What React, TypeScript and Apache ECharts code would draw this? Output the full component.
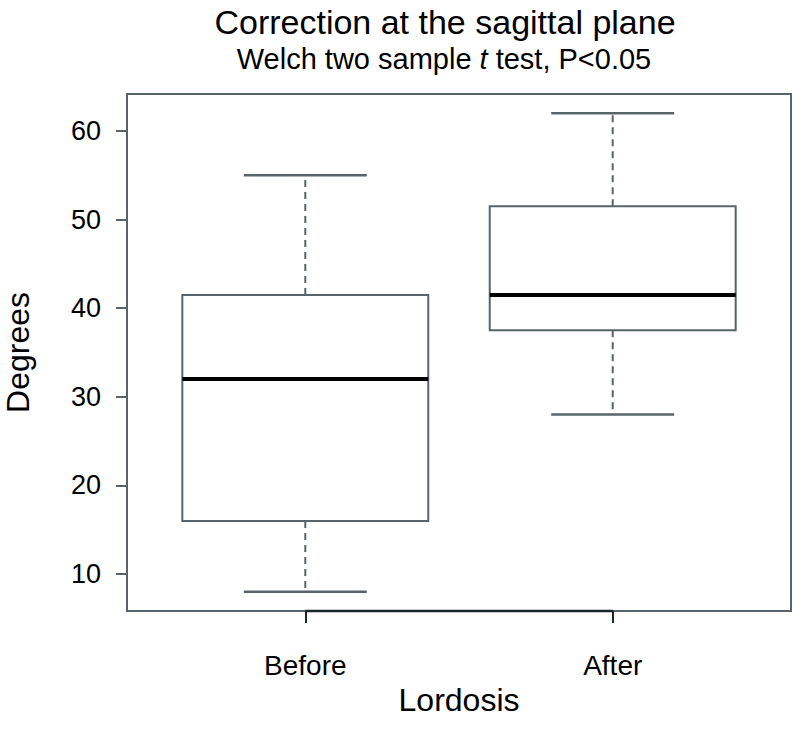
import React, { useEffect, useRef } from "react";
import * as echarts from "echarts";

const categories = ["Before", "After"];
// [min, Q1, median, Q3, max]
const beforeStats = [8, 16, 32, 41.5, 55];
const afterStats = [28, 37.5, 41.5, 51.5, 62];
const yTicks = [10, 20, 30, 40, 50, 60];

const FONT = "'Liberation Sans', Arial, Helvetica, sans-serif";
const GRAY = "#58646a";
const DARK = "#1c2628";

export default function App() {
  const ref = useRef<HTMLDivElement>(null);
  useEffect(() => {
    if (!ref.current) return;
    const chart = echarts.init(ref.current, null, { renderer: "svg" });
    const all = [...beforeStats, ...afterStats];
    const lo = Math.min(...all);
    const hi = Math.max(...all);
    const pad = (hi - lo) * 0.04;
    const YMIN = lo - pad;
    const YMAX = hi + pad;
    const XMIN = 1 - 0.5 - 0.08;
    const XMAX = categories.length + 0.5 + 0.08;
    const rows = [beforeStats, afterStats].map((s, i) => [i + 1, ...s]);

    chart.setOption({
      animation: false,
      backgroundColor: "#fff",
      title: [
        {
          text: "Correction at the sagittal plane",
          left: 440,
          top: 0,
          textAlign: "center",
          textStyle: { fontFamily: FONT, fontSize: 34, fontWeight: "normal", color: "#000" },
        },
        {
          text: "{a|Welch two sample }{i|t}{a| test, P<0.05}",
          left: 439,
          top: 39,
          textAlign: "center",
          textStyle: {
            fontFamily: FONT,
            fontSize: 29,
            fontWeight: "normal",
            color: "#000",
            rich: {
              a: { fontFamily: FONT, fontSize: 29, fontWeight: "normal", color: "#000" },
              i: { fontFamily: FONT, fontSize: 29, fontWeight: "normal", fontStyle: "italic", color: "#000" },
            },
          },
        },
      ],
      grid: {
        left: 127,
        right: 8,
        top: 94,
        bottom: 133,
        show: true,
        borderColor: GRAY,
        borderWidth: 2,
        backgroundColor: "transparent",
        containLabel: false,
        outerBoundsMode: "none",
      },
      xAxis: {
        type: "value",
        min: XMIN,
        max: XMAX,
        name: "Lordosis",
        nameLocation: "middle",
        nameGap: 69,
        nameTextStyle: { fontFamily: FONT, fontSize: 32, color: "#000" },
        axisLine: { show: false },
        splitLine: { show: false },
        axisTick: { show: true, length: 12, customValues: [1, 2], lineStyle: { color: DARK, width: 2 } },
        axisLabel: {
          customValues: [1, 2],
          formatter: (v: number) => categories[Math.round(v) - 1] ?? "",
          fontFamily: FONT,
          fontSize: 28,
          color: "#000",
          margin: 40,
        },
      },
      yAxis: {
        type: "value",
        min: YMIN,
        max: YMAX,
        name: "Degrees",
        nameLocation: "middle",
        nameRotate: 90,
        nameGap: 93,
        nameTextStyle: { fontFamily: FONT, fontSize: 32, color: "#000" },
        axisLine: { show: false },
        splitLine: { show: false },
        axisTick: { show: true, length: 11, customValues: yTicks, lineStyle: { color: GRAY, width: 2 } },
        axisLabel: {
          customValues: yTicks,
          fontFamily: FONT,
          fontSize: 27,
          color: "#000",
          margin: 26,
        },
      },
      series: [
        {
          type: "custom",
          data: rows,
          encode: { x: 0, y: [1, 2, 3, 4, 5] },
          renderItem: (params: any, api: any) => {
            const x = api.value(0);
            const mn = api.value(1);
            const q1 = api.value(2);
            const md = api.value(3);
            const q3 = api.value(4);
            const mx = api.value(5);
            const c = (xv: number, yv: number) => api.coord([xv, yv]);
            const bl = c(x - 0.4, q3);
            const br = c(x + 0.4, q1);
            const cx = c(x, 0)[0];
            const capL = c(x - 0.2, 0)[0];
            const capR = c(x + 0.2, 0)[0];
            const yMin = c(x, mn)[1];
            const yQ1 = c(x, q1)[1];
            const yMd = c(x, md)[1];
            const yQ3 = c(x, q3)[1];
            const yMax = c(x, mx)[1];
            const whisk = { stroke: GRAY, lineWidth: 2, lineDash: [7, 5] };
            const cap = { stroke: GRAY, lineWidth: 2.5 };
            return {
              type: "group",
              children: [
                { type: "line", shape: { x1: cx, y1: yQ3, x2: cx, y2: yMax }, style: whisk },
                { type: "line", shape: { x1: cx, y1: yQ1, x2: cx, y2: yMin }, style: whisk },
                { type: "line", shape: { x1: capL, y1: yMax, x2: capR, y2: yMax }, style: cap },
                { type: "line", shape: { x1: capL, y1: yMin, x2: capR, y2: yMin }, style: cap },
                {
                  type: "rect",
                  shape: { x: bl[0], y: bl[1], width: br[0] - bl[0], height: br[1] - bl[1] },
                  style: { fill: "#fff", stroke: GRAY, lineWidth: 2 },
                },
                { type: "line", shape: { x1: bl[0], y1: yMd, x2: br[0], y2: yMd }, style: { stroke: "#000", lineWidth: 4 } },
              ],
            };
          },
        },
        {
          type: "line",
          data: [
            [1, YMIN],
            [2, YMIN],
          ],
          symbol: "none",
          clip: false,
          lineStyle: { color: DARK, width: 2.5 },
        },
      ],
    });
    return () => chart.dispose();
  }, []);
  return (
    <div
      ref={ref}
      style={{ position: "fixed", left: 0, top: 0, width: 799, height: 744, background: "#fff" }}
    />
  );
}
